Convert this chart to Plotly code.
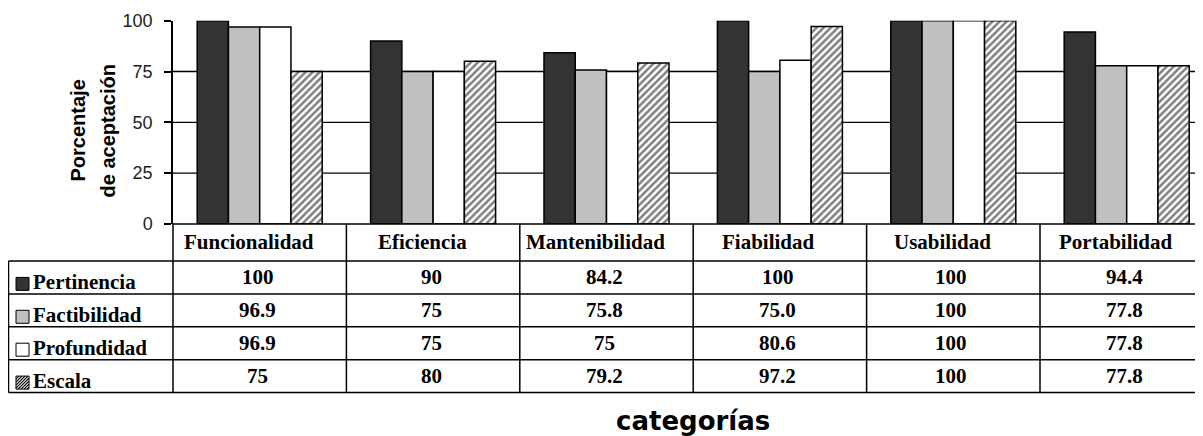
import plotly.graph_objects as go

# ---------------- data ----------------
categories = ["Funcionalidad", "Eficiencia", "Mantenibilidad", "Fiabilidad", "Usabilidad", "Portabilidad"]
series_names = ["Pertinencia", "Factibilidad", "Profundidad", "Escala"]

pertinencia = [100, 90, 84.2, 100, 100, 94.4]
factibilidad = [96.9, 75, 75.8, 75.0, 100, 77.8]
profundidad = [96.9, 75, 75, 80.6, 100, 77.8]
escala = [75, 80, 79.2, 97.2, 100, 77.8]

pertinencia_labels = ["100", "90", "84.2", "100", "100", "94.4"]
factibilidad_labels = ["96.9", "75", "75.8", "75.0", "100", "77.8"]
profundidad_labels = ["96.9", "75", "75", "80.6", "100", "77.8"]
escala_labels = ["75", "80", "79.2", "97.2", "100", "77.8"]

y_ticks = [0, 25, 50, 75, 100]
grid_values = [25, 50, 75]

y_title_lines = ["Porcentaje", "de aceptación"]
x_title = "categorías"

# ---------------- layout geometry (reference window pixels) ----------------
WIN_W, WIN_H = 1203, 436
OFF = 8                      # page body margin
W, H = WIN_W - OFF, WIN_H - OFF
PLOT_LEFT = 173.0
PLOT_TOP = 20.7
PLOT_BOTTOM = 224.0
CAT_W = 173.4
r0 = -0.5
r1 = -0.5 + (WIN_W - PLOT_LEFT) / CAT_W


def px(xp):
    return (xp - OFF) / W


def py(yp):
    return 1 - (yp - OFF) / H


X0 = px(PLOT_LEFT)


def xcat(v):
    return X0 + (v - r0) / (r1 - r0) * (1 - X0)


series_values = [pertinencia, factibilidad, profundidad, escala]
series_labels = [pertinencia_labels, factibilidad_labels, profundidad_labels, escala_labels]
fills = ["#333333", "#c0c0c0", "#ffffff", "#ffffff"]

fig = go.Figure()
for i, (name, vals) in enumerate(zip(series_names, series_values)):
    marker = dict(color=fills[i], line=dict(color="black", width=1.5))
    if name == "Escala":
        marker["pattern"] = dict(shape="/", fgcolor="black", bgcolor="white", size=5, solidity=0.5)
    fig.add_trace(go.Bar(x=list(range(len(categories))), y=vals, name=name, marker=marker))

shapes = []
annotations = []
LINE = dict(color="black", width=1.5)

# horizontal gridlines (no line at 100)
for g in grid_values:
    shapes.append(dict(type="line", xref="paper", yref="y", x0=X0, x1=1, y0=g, y1=g,
                       line=dict(color="black", width=1.3), layer="below"))

# ---- data table ----
HEADER_BOTTOM = 261.0
ROW_H = 32.9
LEG_LEFT = 8.5
row_lines = [HEADER_BOTTOM + k * ROW_H for k in range(len(series_names) + 1)]
TABLE_BOTTOM = row_lines[-1]

shapes.append(dict(type="line", xref="paper", yref="paper", x0=X0, x1=1,
                   y0=py(PLOT_BOTTOM), y1=py(PLOT_BOTTOM), line=LINE))
for yl in row_lines:
    shapes.append(dict(type="line", xref="paper", yref="paper", x0=px(LEG_LEFT), x1=1,
                       y0=py(yl), y1=py(yl), line=LINE))
shapes.append(dict(type="line", xref="paper", yref="paper", x0=px(LEG_LEFT), x1=px(LEG_LEFT),
                   y0=py(HEADER_BOTTOM), y1=py(TABLE_BOTTOM), line=LINE))
for k in range(len(categories)):
    b = k - 0.5
    if b <= r1:
        xb = xcat(b)
        shapes.append(dict(type="line", xref="paper", yref="paper", x0=xb, x1=xb,
                           y0=py(PLOT_BOTTOM), y1=py(TABLE_BOTTOM), line=LINE))

TFONT = dict(family="Liberation Serif", size=21, color="black")
for i, c in enumerate(categories):
    annotations.append(dict(x=i, xref="x", y=py((PLOT_BOTTOM + HEADER_BOTTOM) / 2), yref="paper",
                            text="<b>%s</b>" % c, showarrow=False, xanchor="center", yanchor="middle",
                            xshift=-11, font=TFONT))
for r, (name, labels) in enumerate(zip(series_names, series_labels)):
    top = row_lines[r]
    bot = row_lines[r + 1]
    cy = (top + bot) / 2
    for i, lab in enumerate(labels):
        annotations.append(dict(x=i, xref="x", y=py(cy), yref="paper", text="<b>%s</b>" % lab,
                                showarrow=False, xanchor="center", yanchor="middle", xshift=-2, font=TFONT))
    annotations.append(dict(x=px(31), xref="paper", y=py(cy + 5), yref="paper", text="<b>%s</b>" % name,
                            showarrow=False, xanchor="left", yanchor="middle", font=TFONT))
    kx0, kx1 = 16.0, 29.0
    ky1 = bot - 3.5
    ky0 = ky1 - 13.0
    shapes.append(dict(type="rect", xref="paper", yref="paper", x0=px(kx0), x1=px(kx1),
                       y0=py(ky1), y1=py(ky0), fillcolor=fills[r], line=dict(color="black", width=1)))
    if name == "Escala":
        s = kx1 - kx0
        path = ""
        d = -s
        while d <= s:
            t0 = max(0.0, -d)
            t1 = min(s, s - d)
            if t1 > t0:
                xa, ya = kx0 + d + t0, ky1 - t0
                xb2, yb = kx0 + d + t1, ky1 - t1
                path += "M%.5f,%.5f L%.5f,%.5f " % (px(xa), py(ya), px(xb2), py(yb))
            d += 3.0
        shapes.append(dict(type="path", xref="paper", yref="paper", path=path,
                           line=dict(color="black", width=1.2)))

# axis titles
for j, (line_txt, cx) in enumerate(zip(y_title_lines, [77.5, 107.5])):
    annotations.append(dict(x=px(cx), xref="paper", y=py(131), yref="paper", text="<b>%s</b>" % line_txt,
                            textangle=-90, showarrow=False, xanchor="center", yanchor="middle",
                            font=dict(family="Liberation Sans", size=20, color="black")))
annotations.append(dict(x=(len(categories) - 1) / 2, xref="x", y=py(421), yref="paper",
                        text="<b>%s</b>" % x_title, showarrow=False, xanchor="center", yanchor="middle",
                        font=dict(family="DejaVu Sans", size=26, color="black")))

fig.update_layout(
    width=W, height=H, autosize=False,
    margin=dict(l=0, r=0, t=0, b=0, pad=0),
    paper_bgcolor="white", plot_bgcolor="white",
    showlegend=False,
    barmode="group", bargap=0.279, bargroupgap=0,
    shapes=shapes, annotations=annotations,
    xaxis=dict(domain=[X0, 1], range=[r0, r1], showticklabels=False, ticks="", showgrid=False,
               zeroline=False, showline=False, fixedrange=True, automargin=False),
    yaxis=dict(domain=[py(PLOT_BOTTOM), py(PLOT_TOP)], range=[0, 100], tickvals=y_ticks,
               ticks="outside", ticklen=7, tickwidth=1.5, tickcolor="black",
               showline=True, linecolor="black", linewidth=1.5, showgrid=False, zeroline=False,
               tickfont=dict(family="Liberation Sans", size=18, color="#222222"),
               ticklabelstandoff=8, fixedrange=True, automargin=False),
)

fig.write_html("out.html")
